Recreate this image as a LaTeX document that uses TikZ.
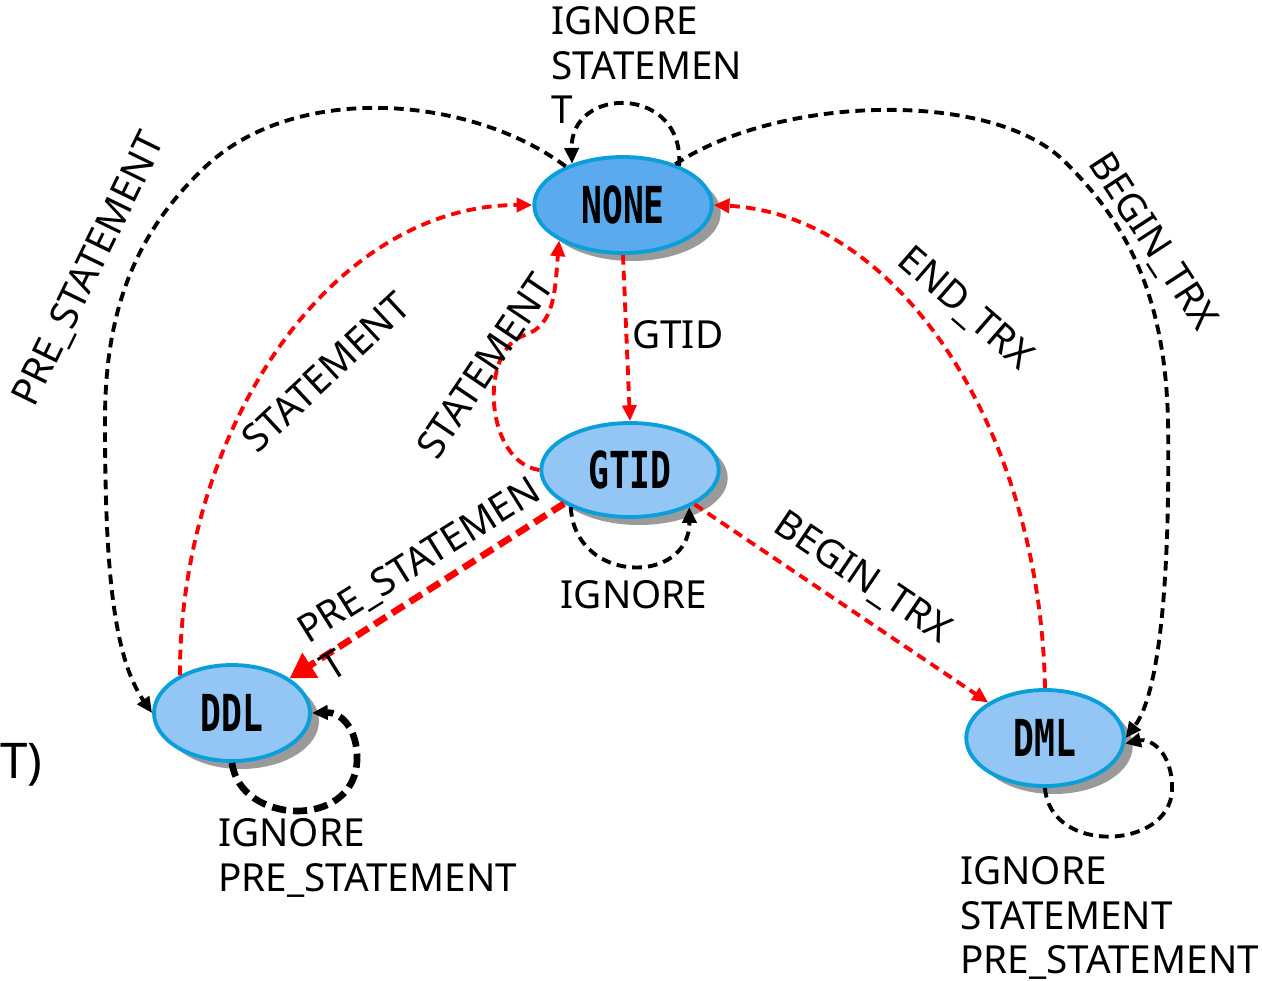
\documentclass[tikz,border=0pt]{standalone}
\usepackage{fontspec}
\setmainfont{Noto Sans}
\newfontfamily\statefont[FakeStretch=0.68]{DejaVu Sans Mono}
\usetikzlibrary{shapes.geometric,shadows,arrows.meta}
\definecolor{stateborder}{HTML}{0A9FDA}
\definecolor{nonefill}{HTML}{5BAAEE}
\definecolor{statefill}{HTML}{93C6F4}
\definecolor{shadowgray}{HTML}{9A9A9A}

\begin{document}
\begin{tikzpicture}[x=0.02cm,y=-0.02cm]
        \tikzstyle{state}=[
            ellipse, draw=stateborder, line width=2.2pt, fill=statefill,
            minimum width=3.55cm, minimum height=1.92cm, inner sep=0pt,
            font=\statefont\bfseries\fontsize{29}{29}\selectfont,
            drop shadow={shadow xshift=0.18cm, shadow yshift=-0.16cm, fill=shadowgray, opacity=1}
        ]
        \tikzstyle{none state}=[state, fill=nonefill]
        \tikzstyle{black edge}=[draw=black, line width=2.2pt, dash pattern=on 5.5pt off 3.5pt,
            -{Triangle[length=9pt,width=8pt]}]
        \tikzstyle{red edge}=[black edge, draw=red]
        \tikzstyle{thick edge}=[line width=3.8pt, dash pattern=on 8pt off 4pt]
        \tikzstyle{annot}=[font=\fontsize{22}{25.5}\selectfont, inner sep=0pt, align=left]

        \useasboundingbox (0,0) rectangle (1262,981);

        % Draw the states
        \node[none state] (none) at (623,205) {NONE};
        \node[state, minimum height=1.88cm] (gtid) at (630,470) {GTID};
        \node[state, minimum width=3.12cm] (ddl) at (232,713) {DDL};
        \node[state, minimum width=3.15cm] (dml) at (1045,738) {DML};

        % Black transitions
        \draw[black edge] (none.35) .. controls (685,85) and (570,85) .. (none.141);
        \draw[black edge] (none.146) .. controls (470,95) and (290,80) .. (200,172)
            .. controls (130,240) and (105,320) .. (105,420)
            .. controls (105,560) and (112,655) .. (ddl.west);
        \draw[black edge] (none.38) .. controls (780,95) and (990,90) .. (1063,160)
            .. controls (1130,225) and (1165,300) .. (1168,420)
            .. controls (1170,560) and (1162,690) .. (dml.east);
        \draw[black edge] (gtid.212) .. controls (575,585) and (690,585) .. (gtid.328);
        \draw[black edge, thick edge] (ddl.south) .. controls (240,825) and (355,830) .. (357,760)
            .. controls (358,728) and (340,712) .. (ddl.east);
        \draw[black edge] (dml.south) .. controls (1050,855) and (1170,850) .. (1172,790)
            .. controls (1173,752) and (1150,738) .. (dml.356);

        % Red transitions
        \draw[red edge] (none.south) -- (gtid.north);
        \draw[red edge] (ddl.144) .. controls (180,430) and (330,205) .. (none.west);
        \draw[red edge] (dml.north) .. controls (1040,430) and (900,215) .. (none.east);
        \draw[red edge] (gtid.west) .. controls (485,462) and (478,350) .. (525,335)
            .. controls (555,325) and (555,290) .. (none.209);
        \draw[red edge, thick edge, -{Triangle[length=14pt,width=16pt]}] (gtid.207) -- (ddl.31);
        \draw[red edge] (gtid.332) -- (dml.148);

        % Annotate the transitions
        \node[annot, anchor=north west] (l-none) at (551,6) {IGNORE\\STATEMEN\\T};
        \node[annot, rotate=64] (l-pre) at (90,270) {PRE\_STATEMENT};
        \node[annot, rotate=-57] (l-begin) at (1152,242) {BEGIN\_TRX};
        \node[annot, rotate=43] (l-stmt-ddl) at (326,372) {STATEMENT};
        \node[annot, rotate=-41] (l-end) at (965,309) {END\_TRX};
        \node[annot, rotate=56] (l-stmt-gtid) at (485,366) {STATEMENT};
        \node[annot, anchor=west] (l-gtid) at (632,335) {GTID};
        \node[annot, rotate=32] (l-pre-ddl) at (430,578) {PRE\_STATEMEN\\T};
        \node[annot, rotate=-34] (l-begin-dml) at (862,578) {BEGIN\_TRX};
        \node[annot] (l-ignore) at (634,595) {IGNORE};
        \node[annot, anchor=north west] (l-ddl) at (218,818) {IGNORE\\PRE\_STATEMENT};
        \node[annot, anchor=north west] (l-dml) at (960,856) {IGNORE\\STATEMENT\\PRE\_STATEMENT};
        \node[annot, anchor=west, font=\fontsize{28}{28}\selectfont] (l-cut) at (0,765) {T)};
\end{tikzpicture}
\end{document}
